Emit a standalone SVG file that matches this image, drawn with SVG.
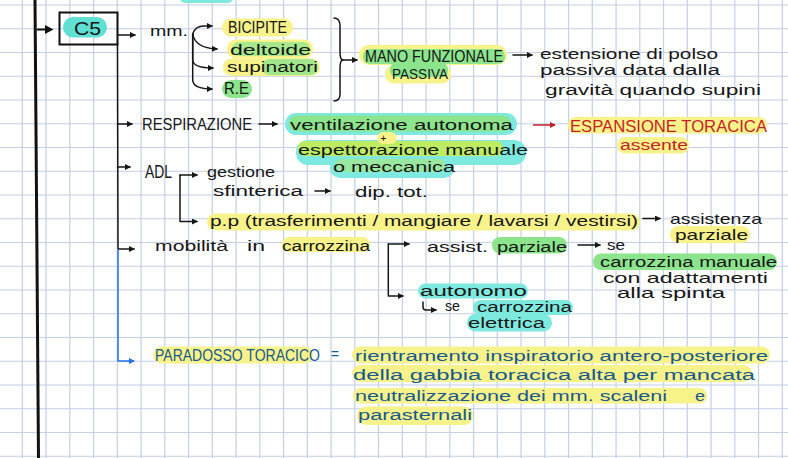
<svg xmlns="http://www.w3.org/2000/svg" width="788" height="458" viewBox="0 0 788 458">
<defs>
<style>
.t{font-family:"Liberation Sans","DejaVu Sans",sans-serif;font-size:15.5px;fill:#161616}
.c{font-size:16.5px}
.red{fill:#c41f28}
.blu{fill:#17598f}
.y{fill:#f8f28a}
.g{fill:#8ce48c}
.tq{fill:#7ee9de}
.ln{fill:none;stroke:#161616;stroke-width:1.5;stroke-linecap:round;stroke-linejoin:round}
.grid{fill:none;stroke:#c3d0e5;stroke-width:1.2}
</style>
<marker id="a" viewBox="0 0 6 6" refX="5" refY="3" markerWidth="6" markerHeight="6" markerUnits="userSpaceOnUse" orient="auto"><path d="M0,0 L6,3 L0,6 z" fill="#161616"/></marker>
<marker id="ar" viewBox="0 0 6 6" refX="5" refY="3" markerWidth="6" markerHeight="6" markerUnits="userSpaceOnUse" orient="auto"><path d="M0,0 L6,3 L0,6 z" fill="#c41f28"/></marker>
<marker id="ab" viewBox="0 0 6 6" refX="5" refY="3" markerWidth="6" markerHeight="6" markerUnits="userSpaceOnUse" orient="auto"><path d="M0,0 L6,3 L0,6 z" fill="#2272e6"/></marker>
</defs>
<rect width="788" height="458" fill="#ffffff"/>
<path class="grid" d="M22.3,0V458M46.05,0V458M69.8,0V458M93.55,0V458M117.3,0V458M141.05,0V458M164.8,0V458M188.55,0V458M212.3,0V458M236.05,0V458M259.8,0V458M283.55,0V458M307.3,0V458M331.05,0V458M354.8,0V458M378.55,0V458M402.3,0V458M426.05,0V458M449.8,0V458M473.55,0V458M497.3,0V458M521.05,0V458M544.8,0V458M568.55,0V458M592.3,0V458M616.05,0V458M639.8,0V458M663.55,0V458M687.3,0V458M711.05,0V458M734.8,0V458M758.55,0V458M782.3,0V458M0,5H788M0,28.75H788M0,52.5H788M0,76.25H788M0,100H788M0,123.75H788M0,147.5H788M0,171.25H788M0,195H788M0,218.75H788M0,242.5H788M0,266.25H788M0,290H788M0,313.75H788M0,337.5H788M0,361.25H788M0,385H788M0,408.75H788M0,432.5H788M0,456.25H788"/>

<!-- top cut-off fragment -->
<rect class="tq" x="180" y="-8" width="53" height="11" rx="5"/>

<g id="connectors">
<path d="M35,0 L38.5,458" fill="none" stroke="#111" stroke-width="3"/>
<path d="M37,29.5 H48" fill="none" stroke="#111" stroke-width="2"/>
<polygon points="45,25 53.5,29.5 45,34" fill="#111"/>
<path class="ln" d="M117.5,44 L118,249 H134" marker-end="url(#a)"/>
<path d="M118,250 V361 H134" fill="none" stroke="#2272e6" stroke-width="1.5" marker-end="url(#ab)"/>
<path class="ln" d="M117.5,35 H135" marker-end="url(#a)"/>
<path class="ln" d="M192.7,34 Q195,26 204,26 H212" marker-end="url(#a)"/>
<path class="ln" d="M192.7,34 Q195,48 217,49" marker-end="url(#a)"/>
<path class="ln" d="M192.7,34 V60 Q193,68 213,68" marker-end="url(#a)"/>
<path class="ln" d="M192.7,34 V80 Q193,89 212,89" marker-end="url(#a)"/>
<path class="ln" d="M334,18 Q340,18 340,26 V52 Q340,60 343,60 Q340,60 340,68 V94 Q340,101 334,101"/>
<path class="ln" d="M343,60 H357" marker-end="url(#a)"/>
<path class="ln" d="M513,55 H532" marker-end="url(#a)"/>
<path class="ln" d="M117.5,124 H132" marker-end="url(#a)"/>
<path class="ln" d="M259,124 H277" marker-end="url(#a)"/>
<path d="M533,125 H555" fill="none" stroke="#c41f28" stroke-width="1.5" marker-end="url(#ar)"/>
<path class="ln" d="M117.5,167 H130" marker-end="url(#a)"/>
<path class="ln" d="M180,175 H197" marker-end="url(#a)"/>
<path class="ln" d="M180,175 V221.5 H197" marker-end="url(#a)"/>
<path class="ln" d="M315,191 H330" marker-end="url(#a)"/>
<path class="ln" d="M643,218.5 H660" marker-end="url(#a)"/>
<path class="ln" d="M388.3,244 H409" marker-end="url(#a)"/>
<path class="ln" d="M388.3,244 V296 H403" marker-end="url(#a)"/>
<path class="ln" d="M578,245 H600" marker-end="url(#a)"/>
<path class="ln" d="M423,302 V307 Q423,310 426,310 H436" marker-end="url(#a)"/>
</g>

<g id="c5">
<rect x="59.5" y="12.5" width="58" height="32" fill="none" stroke="#111" stroke-width="2"/>
<rect x="63" y="17" width="44" height="20.5" rx="10" fill="#5fe0d2"/>
<text class="t" x="74" y="34.5" style="font-size:19px" textLength="27" lengthAdjust="spacingAndGlyphs">C5</text>
</g>

<g id="mm"><text class="t" x="150" y="35.5" textLength="38" lengthAdjust="spacingAndGlyphs">mm.</text></g>

<g id="bicipite"><rect class="y" x="222" y="18.5" width="71" height="18" rx="9"/>
<text class="t c" x="228" y="32.5" textLength="59" lengthAdjust="spacingAndGlyphs">BICIPITE</text></g>

<g id="deltoide"><rect class="y" x="227" y="39.5" width="86" height="19" rx="9"/><rect class="g" x="232" y="42" width="78" height="14" rx="7" opacity="0.75"/>
<text class="t" x="230" y="55" textLength="81" lengthAdjust="spacingAndGlyphs">deltoide</text></g>

<g id="supinatori"><rect class="y" x="223" y="58.5" width="97" height="17.5" rx="8.5"/><rect class="g" x="262" y="59" width="56" height="16" rx="8" opacity="0.8"/>
<text class="t" x="227" y="72" textLength="91" lengthAdjust="spacingAndGlyphs">supinatori</text></g>

<g id="re"><rect class="g" x="222" y="80" width="30" height="18" rx="9"/>
<text class="t c" x="224" y="94" textLength="25" lengthAdjust="spacingAndGlyphs">R.E</text></g>

<g id="mano"><rect class="y" x="359" y="45" width="148" height="20" rx="10"/><rect class="g" x="363" y="49" width="142" height="15" rx="7"/>
<rect class="y" x="385" y="65" width="66" height="18.5" rx="9"/><rect class="g" x="390" y="63" width="58" height="14" rx="6"/>
<text class="t" x="365" y="61.5" style="font-size:16px" textLength="138" lengthAdjust="spacingAndGlyphs">MANO FUNZIONALE</text>
<text class="t" x="392" y="78.5" style="font-size:14.5px" textLength="56" lengthAdjust="spacingAndGlyphs">PASSIVA</text></g>

<g id="estensione">
<text class="t" x="540" y="59" textLength="178" lengthAdjust="spacingAndGlyphs">estensione di polso</text>
<text class="t" x="540" y="75" textLength="180" lengthAdjust="spacingAndGlyphs">passiva data dalla</text>
<text class="t" x="545" y="95" textLength="216" lengthAdjust="spacingAndGlyphs">gravità quando supini</text></g>

<g id="respirazione"><text class="t c" x="142" y="129.5" textLength="110" lengthAdjust="spacingAndGlyphs">RESPIRAZIONE</text></g>

<g id="ventilazione"><rect class="tq" x="285" y="113" width="232" height="22" rx="11"/><rect class="g" x="289" y="115.5" width="222" height="16" rx="8"/>
<text class="t" x="290" y="129.5" textLength="223" lengthAdjust="spacingAndGlyphs">ventilazione autonoma</text></g>

<g id="espettorazione"><rect class="tq" x="296" y="140" width="230" height="25" rx="12"/><rect class="tq" x="330" y="158" width="124" height="20" rx="10"/>
<rect x="298" y="141" width="205" height="15" rx="7" fill="#bdec63"/><rect x="335" y="159" width="110" height="13" rx="6" fill="#9ae8a0"/>
<rect class="y" x="377" y="132" width="20" height="12" rx="6"/>
<text class="t" x="380.5" y="141.5" style="font-size:10px">+</text>
<text class="t" x="298" y="155" textLength="230" lengthAdjust="spacingAndGlyphs">espettorazione manuale</text>
<text class="t" x="333" y="172" textLength="122" lengthAdjust="spacingAndGlyphs">o meccanica</text></g>

<g id="espansione"><rect class="y" x="568" y="117" width="199" height="16.5" rx="8"/><rect class="y" x="617" y="137" width="72" height="16.5" rx="8"/>
<text class="t c red" x="570" y="131.5" textLength="197" lengthAdjust="spacingAndGlyphs">ESPANSIONE TORACICA</text>
<text class="t red" x="620" y="150" textLength="68" lengthAdjust="spacingAndGlyphs">assente</text></g>

<g id="adl"><text class="t" x="145" y="178" style="font-size:17.5px" textLength="27" lengthAdjust="spacingAndGlyphs">ADL</text></g>

<g id="gestione">
<text class="t" x="207" y="177" textLength="68" lengthAdjust="spacingAndGlyphs">gestione</text>
<text class="t" x="213" y="196" textLength="90" lengthAdjust="spacingAndGlyphs">sfinterica</text></g>

<g id="dip"><text class="t" x="355" y="196.5" textLength="73" lengthAdjust="spacingAndGlyphs">dip. tot.</text></g>

<g id="pp"><rect class="y" x="207" y="213.5" width="433" height="17" rx="8.5"/>
<text class="t" x="210" y="226" textLength="428" lengthAdjust="spacingAndGlyphs">p.p (trasferimenti / mangiare / lavarsi / vestirsi)</text></g>

<g id="assistenza"><rect class="y" x="670" y="226" width="80" height="17" rx="8.5"/>
<text class="t" x="670" y="223.5" style="font-size:14.5px" textLength="92" lengthAdjust="spacingAndGlyphs">assistenza</text>
<text class="t" x="675" y="239.5" style="font-size:14.5px" textLength="73" lengthAdjust="spacingAndGlyphs">parziale</text></g>

<g id="mobilita"><rect class="y" x="282" y="237" width="88" height="15" rx="7.5"/>
<text class="t" y="250.5"><tspan x="155" textLength="73" lengthAdjust="spacingAndGlyphs">mobilità</tspan><tspan x="247" textLength="18" lengthAdjust="spacingAndGlyphs">in</tspan><tspan x="282" textLength="88" lengthAdjust="spacingAndGlyphs">carrozzina</tspan></text></g>

<g id="assist"><rect class="g" x="492" y="237" width="75" height="16.5" rx="8"/>
<text class="t" y="251.5"><tspan x="427" textLength="61" lengthAdjust="spacingAndGlyphs">assist.</tspan><tspan x="497" textLength="70" lengthAdjust="spacingAndGlyphs">parziale</tspan></text></g>

<g id="manuale"><rect class="g" x="593" y="253.5" width="184" height="16.5" rx="8"/>
<text class="t" x="607" y="250" textLength="18" lengthAdjust="spacingAndGlyphs">se</text>
<text class="t" x="600" y="266.5" textLength="177" lengthAdjust="spacingAndGlyphs">carrozzina manuale</text>
<text class="t" x="603" y="283" style="font-size:14.5px" textLength="165" lengthAdjust="spacingAndGlyphs">con adattamenti</text>
<text class="t" x="617" y="297.5" style="font-size:14.5px" textLength="108" lengthAdjust="spacingAndGlyphs">alla spinta</text></g>

<g id="autonomo"><rect class="tq" x="418" y="283.5" width="110" height="15" rx="7.5"/>
<rect class="tq" x="473" y="300" width="100" height="15" rx="7.5"/><rect class="tq" x="467" y="314" width="85" height="17.5" rx="8.5"/>
<text class="t" x="420" y="296" textLength="107" lengthAdjust="spacingAndGlyphs">autonomo</text>
<text class="t" x="445" y="311" textLength="15" lengthAdjust="spacingAndGlyphs">se</text>
<text class="t" x="477" y="311.5" textLength="95" lengthAdjust="spacingAndGlyphs">carrozzina</text>
<text class="t" x="468" y="328" textLength="77" lengthAdjust="spacingAndGlyphs">elettrica</text></g>

<g id="paradosso"><rect class="y" x="153" y="346.5" width="160" height="17" rx="8.5"/>
<text class="t c blu" x="155" y="361" textLength="165" lengthAdjust="spacingAndGlyphs">PARADOSSO TORACICO</text>
<text class="t blu" x="331" y="359" textLength="8" lengthAdjust="spacingAndGlyphs">=</text></g>

<g id="definizione">
<rect class="y" x="352" y="346.5" width="418" height="17" rx="8.5"/>
<rect class="y" x="352" y="365" width="400" height="17" rx="8.5"/>
<rect class="y" x="353" y="388" width="354" height="15.5" rx="7.5"/>
<rect class="y" x="357" y="406.5" width="116" height="18.5" rx="9"/>
<text class="t blu" x="355" y="361" textLength="413" lengthAdjust="spacingAndGlyphs">rientramento inspiratorio antero-posteriore</text>
<text class="t blu" x="353" y="380" textLength="402" lengthAdjust="spacingAndGlyphs">della gabbia toracica alta per mancata</text>
<text class="t blu" y="401"><tspan x="355" textLength="312" lengthAdjust="spacingAndGlyphs">neutralizzazione dei mm. scaleni</tspan><tspan x="695" textLength="10" lengthAdjust="spacingAndGlyphs">e</tspan></text>
<text class="t blu" x="358" y="419.5" textLength="114" lengthAdjust="spacingAndGlyphs">parasternali</text></g>
</svg>
